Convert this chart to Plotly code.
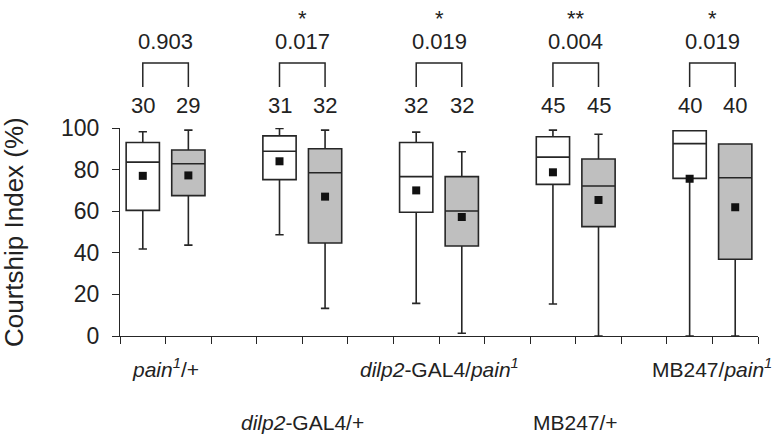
import numpy as np
import plotly.graph_objects as go

# ---- data ----
positions = [0, 1, 3, 4, 6, 7, 9, 10, 12, 13]
q1 = [60.4, 67.5, 75.2, 44.7, 59.5, 43.3, 72.9, 52.6, 75.8, 36.9]
median = [83.6, 82.8, 88.8, 78.5, 76.6, 60.1, 86.0, 72.1, 92.5, 76.1]
q3 = [93.0, 89.4, 96.2, 90.0, 93.0, 76.6, 95.8, 85.1, 98.7, 92.3]
lower = [41.8, 43.7, 48.7, 13.3, 15.7, 1.3, 15.4, 0.0, 0.0, 0.0]
upper = [98.2, 99.0, 99.8, 99.0, 98.0, 88.6, 99.0, 97.0, 98.7, 92.3]
means = [77.0, 77.2, 84.0, 67.0, 70.0, 57.2, 78.7, 65.4, 75.6, 61.9]
counts = [30, 29, 31, 32, 32, 32, 45, 45, 40, 40]
pvalues = ["0.903", "0.017", "0.019", "0.004", "0.019"]
stars = ["", "*", "*", "**", "*"]
genotypes = ["<i>pain</i><sup><i>1</i></sup>/+",
             "<i>dilp2</i>-GAL4/+",
             "<i>dilp2</i>-GAL4/<i>pain</i><sup><i>1</i></sup>",
             "MB247/+",
             "MB247/<i>pain</i><sup><i>1</i></sup>"]
genotype_row = [0, 1, 0, 1, 0]
y_ticks = [0, 20, 40, 60, 80, 100]

FONT = "Liberation Sans, Arial, sans-serif"
XR = [-0.5, 13.5]
YR = [0, 100]
GRAY = "#bfbfbf"
LINE = "#262626"
TXT = "#222222"

W, H = 778, 437
ML, MR, MT, MB = 120, 20, 128, 101
PLOT_H = H - MT - MB

fig = go.Figure()
fills = ["white", GRAY] * 5
for i in range(len(positions)):
    fig.add_trace(go.Box(
        x=[positions[i]], q1=[q1[i]], median=[median[i]], q3=[q3[i]],
        lowerfence=[lower[i]], upperfence=[upper[i]],
        width=0.73, whiskerwidth=0.25, fillcolor=fills[i],
        line=dict(color=LINE, width=1.6), boxpoints=False,
        hoverinfo="skip", showlegend=False))

fig.add_trace(go.Scatter(
    x=positions, y=means, mode="markers",
    marker=dict(symbol="square", size=8, color="#111111"),
    cliponaxis=False, showlegend=False, hoverinfo="skip"))

def px_(x):
    return (x - XR[0]) / (XR[1] - XR[0])

def above(pixels):
    return 1 + pixels / PLOT_H

def ann(x, text, shift, size=22):
    fig.add_annotation(x=x, y=1, xref="x", yref="paper", yshift=shift, text=text,
                       xanchor="center", yanchor="middle", showarrow=False,
                       font=dict(size=size, family=FONT, color=TXT))

# counts
for x, n in zip(positions, counts):
    ann(x, str(n), 23)

# brackets, p-values, stars, genotype labels
for k in range(5):
    a, b = positions[2 * k], positions[2 * k + 1]
    ybot, ytop = above(41), above(65)
    fig.add_shape(type="path", xref="paper", yref="paper",
                  path=f"M {px_(a)} {ybot} L {px_(a)} {ytop} L {px_(b)} {ytop} L {px_(b)} {ybot}",
                  line=dict(color=LINE, width=1.5))
    mid = (a + b) / 2
    ann(mid, pvalues[k], 87)
    if stars[k]:
        ann(mid, stars[k], 110, size=22)
    fig.add_annotation(x=mid, y=0, xref="x", yref="paper", text=genotypes[k],
                       yshift=-32 - 54 * genotype_row[k], xanchor="center",
                       yanchor="middle", showarrow=False,
                       font=dict(size=21, family=FONT, color=TXT))

# y-axis title as rotated text
fig.add_annotation(x=0, y=0.5, xref="paper", yref="paper", xshift=-106,
                   text="Courtship Index (%)", textangle=-90, showarrow=False,
                   xanchor="center", yanchor="middle",
                   font=dict(size=26, family=FONT, color=TXT))

fig.update_xaxes(range=XR, tickvals=list(np.arange(XR[0], XR[1] + 0.01, 1.0)),
                 showticklabels=False, ticks="outside", ticklen=7, tickwidth=1.3,
                 tickcolor=LINE, showline=True, linecolor=LINE, linewidth=1.3,
                 showgrid=False, zeroline=False)
fig.update_yaxes(range=YR, tickvals=y_ticks, ticks="outside", ticklen=7, tickwidth=1.3,
                 tickcolor=LINE, showline=True, linecolor=LINE, linewidth=1.3,
                 showgrid=False, zeroline=False, ticklabelstandoff=8,
                 tickfont=dict(size=23, family=FONT, color=TXT))

fig.update_layout(width=W, height=H, plot_bgcolor="white", paper_bgcolor="white",
                  margin=dict(l=ML, r=MR, t=MT, b=MB, autoexpand=False), showlegend=False,
                  hovermode=False)

fig.write_html("out.html", config={"displayModeBar": False},
               post_script="document.body.style.margin='0px'; document.body.style.overflow='hidden';")
